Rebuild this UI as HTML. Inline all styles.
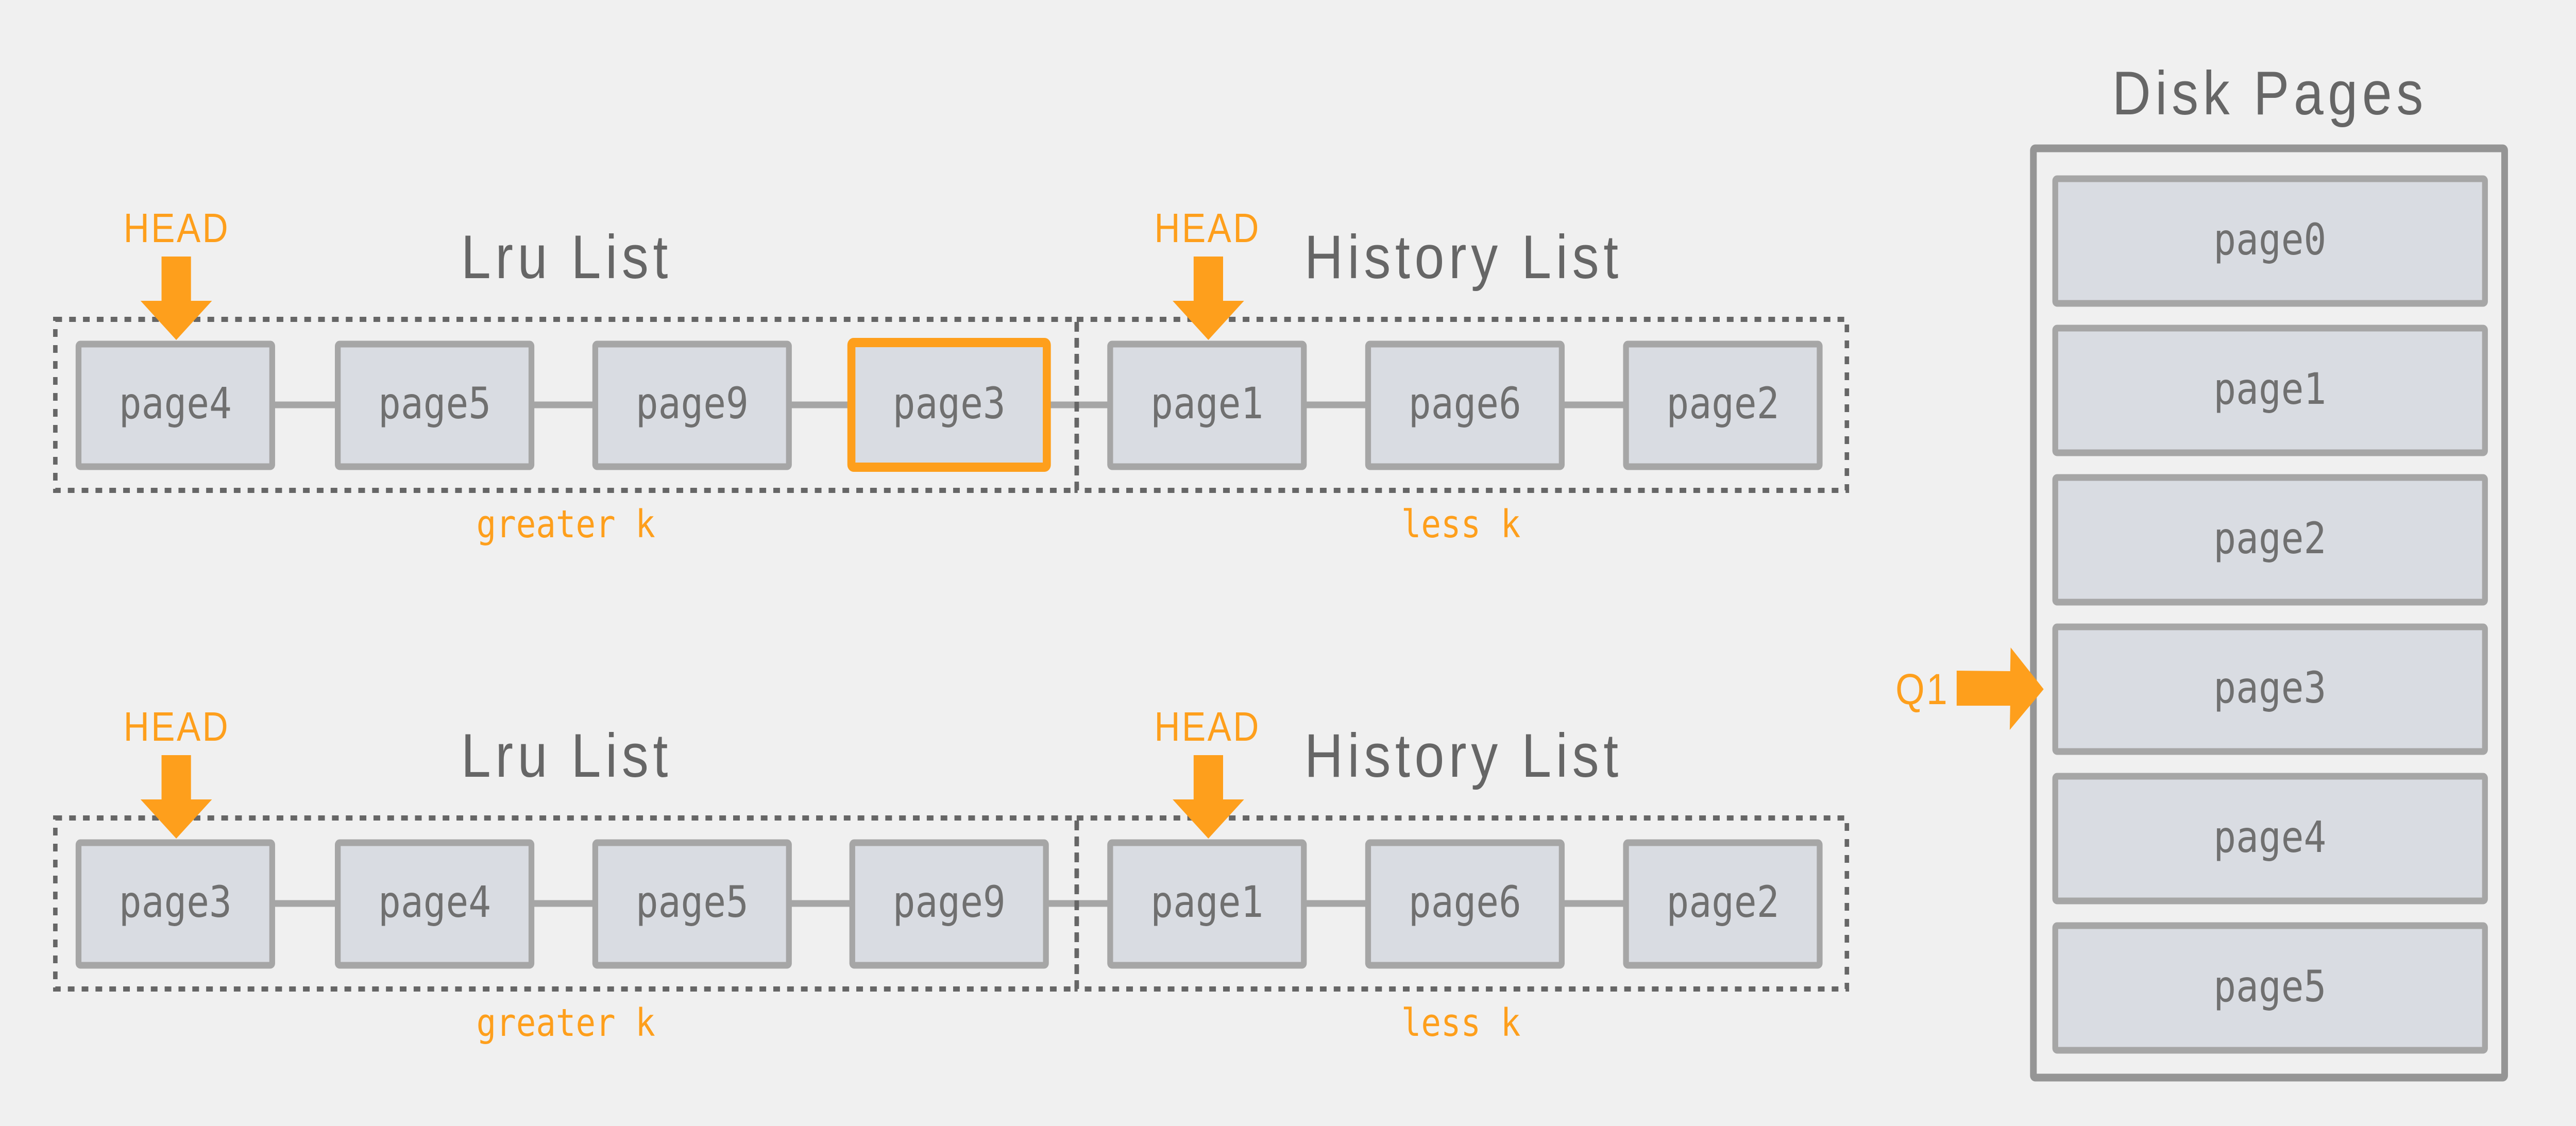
<!DOCTYPE html>
<html><head><meta charset="utf-8"><style>
html,body{margin:0;padding:0;background:#f0f0f0;width:100%;height:100%;overflow:hidden;}
svg{display:block;width:100vw;height:100vh;}
.t{font-family:"DejaVu Sans Mono","Liberation Mono",monospace;font-size:84px;fill:#707070;text-anchor:middle;}
.h{font-family:"Liberation Sans","DejaVu Sans",sans-serif;fill:#666;text-anchor:middle;font-size:120px;letter-spacing:10px;}
.o{font-family:"Liberation Sans","DejaVu Sans",sans-serif;fill:#fe9f1c;text-anchor:middle;font-size:80px;letter-spacing:4px;}
.k{font-family:"DejaVu Sans Mono","Liberation Mono",monospace;fill:#fe9f1c;text-anchor:middle;font-size:74px;}
</style></head><body>
<svg viewBox="0 0 5773 2186" preserveAspectRatio="none" xmlns="http://www.w3.org/2000/svg">
<rect width="5773" height="2186" fill="#f0f0f0"/>
<defs>
<g id="arrowDown"><polygon points="-33,-162 33,-162 33,-76 80,-76 0,0 -80,-76 -33,-76" fill="#fe9f1c"/></g>
</defs>

<g>
<line x1="392" y1="786" x2="3860" y2="786" stroke="#a6a6a6" stroke-width="13"/>
<rect x="124" y="620" width="2289" height="332" fill="none" stroke="#666" stroke-width="10" stroke-dasharray="15 16"/>
<rect x="2413" y="620" width="1726" height="332" fill="none" stroke="#666" stroke-width="10" stroke-dasharray="15 16"/>
<g fill="#d9dce2" stroke="#a6a6a6" stroke-width="13">
<rect x="176" y="668" width="434" height="238" rx="4"/>
<rect x="757" y="668" width="434" height="238" rx="4"/>
<rect x="1334" y="668" width="434" height="238" rx="4"/>
<rect x="2488" y="668" width="434" height="238" rx="4"/>
<rect x="3066" y="668" width="434" height="238" rx="4"/>
<rect x="3644" y="668" width="434" height="238" rx="4"/>
</g>
<rect x="1908" y="665" width="438" height="242" rx="5" fill="#d9dce2" stroke="#fe9f1c" stroke-width="18"/>
<text class="t" x="393" y="812">page4</text>
<text class="t" x="974" y="812">page5</text>
<text class="t" x="1551" y="812">page9</text>
<text class="t" x="2127" y="812">page3</text>
<text class="t" x="2705" y="812">page1</text>
<text class="t" x="3283" y="812">page6</text>
<text class="t" x="3861" y="812">page2</text>
<text class="h" x="1270" y="540">Lru List</text>
<text class="h" x="3280" y="540">History List</text>
<text class="o" x="396" y="470">HEAD</text>
<text class="o" x="2706" y="470">HEAD</text>
<use href="#arrowDown" x="395" y="660"/>
<use href="#arrowDown" x="2708" y="660"/>
<text class="k" x="1268" y="1043">greater k</text>
<text class="k" x="3274" y="1043">less k</text>
</g>

<g transform="translate(0,968)">
<line x1="392" y1="786" x2="3860" y2="786" stroke="#a6a6a6" stroke-width="13"/>
<rect x="124" y="620" width="2289" height="332" fill="none" stroke="#666" stroke-width="10" stroke-dasharray="15 16"/>
<rect x="2413" y="620" width="1726" height="332" fill="none" stroke="#666" stroke-width="10" stroke-dasharray="15 16"/>
<g fill="#d9dce2" stroke="#a6a6a6" stroke-width="13">
<rect x="176" y="668" width="434" height="238" rx="4"/>
<rect x="757" y="668" width="434" height="238" rx="4"/>
<rect x="1334" y="668" width="434" height="238" rx="4"/>
<rect x="1910" y="668" width="434" height="238" rx="4"/>
<rect x="2488" y="668" width="434" height="238" rx="4"/>
<rect x="3066" y="668" width="434" height="238" rx="4"/>
<rect x="3644" y="668" width="434" height="238" rx="4"/>
</g>
<text class="t" x="393" y="812">page3</text>
<text class="t" x="974" y="812">page4</text>
<text class="t" x="1551" y="812">page5</text>
<text class="t" x="2127" y="812">page9</text>
<text class="t" x="2705" y="812">page1</text>
<text class="t" x="3283" y="812">page6</text>
<text class="t" x="3861" y="812">page2</text>
<text class="h" x="1270" y="540">Lru List</text>
<text class="h" x="3280" y="540">History List</text>
<text class="o" x="396" y="470">HEAD</text>
<text class="o" x="2706" y="470">HEAD</text>
<use href="#arrowDown" x="395" y="660"/>
<use href="#arrowDown" x="2708" y="660"/>
<text class="k" x="1268" y="1043">greater k</text>
<text class="k" x="3274" y="1043">less k</text>
</g>

<text class="h" x="5087" y="222">Disk Pages</text>
<rect x="4557" y="288" width="1056" height="1804" rx="4" fill="none" stroke="#959595" stroke-width="15"/>
<g fill="#d9dce2" stroke="#a6a6a6" stroke-width="13">
<rect x="4606" y="347" width="963" height="242" rx="4"/>
<rect x="4606" y="637" width="963" height="242" rx="4"/>
<rect x="4606" y="927" width="963" height="242" rx="4"/>
<rect x="4606" y="1217" width="963" height="242" rx="4"/>
<rect x="4606" y="1507" width="963" height="242" rx="4"/>
<rect x="4606" y="1797" width="963" height="242" rx="4"/>
</g>
<text class="t" x="5087" y="494">page0</text>
<text class="t" x="5087" y="784">page1</text>
<text class="t" x="5087" y="1074">page2</text>
<text class="t" x="5087" y="1364">page3</text>
<text class="t" x="5087" y="1654">page4</text>
<text class="t" x="5087" y="1944">page5</text>
<polygon points="4385,1302 4505,1303 4506,1257 4580,1338 4504,1417 4505,1370 4385,1370" fill="#fe9f1c"/>
<text class="o" x="4308" y="1367" style="font-size:84px">Q1</text>
</svg>
</body></html>
